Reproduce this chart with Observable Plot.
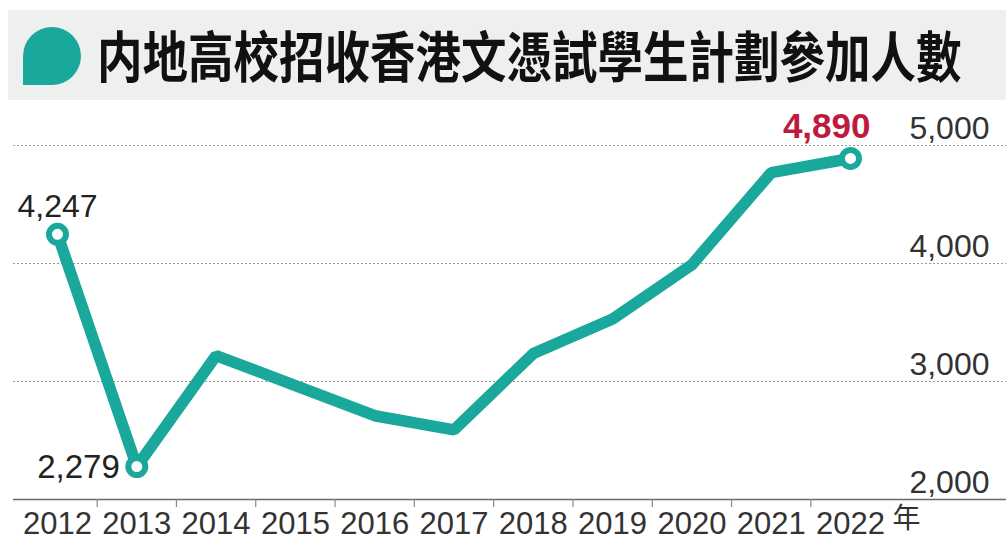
<!DOCTYPE html>
<html>
<head>
<meta charset="utf-8">
<script src="https://cdn.jsdelivr.net/npm/d3@7"></script>
<script src="https://cdn.jsdelivr.net/npm/@observablehq/plot@0.6"></script>
<style>
  html, body { margin: 0; padding: 0; background: #fff; width: 1006px; height: 539px; overflow: hidden; }
  #title {
    position: relative;
    margin: 10px 0 0 8px;
    height: 90px;
    background: #eef0f0;
  }
  #title svg.blob { position: absolute; left: 15px; top: 17px; }
  #title .t {
    position: absolute;
    left: 89px;
    top: 14px;
    font-family: "Noto Sans CJK TC", "Noto Sans CJK SC", sans-serif;
    font-weight: 700;
    font-size: 48px;
    line-height: 58px;
    color: #111;
    transform: scale(0.948, 1.13);
    transform-origin: left center;
    white-space: nowrap;
  }
  #chart svg { display: block; }
</style>
</head>
<body>
<div id="title">
  <svg class="blob" width="60" height="60" viewBox="0 0 60 60">
    <path d="M0,58 L0,29 A29,29 0 1 1 29,58 Z" fill="#1aa89c"/>
  </svg>
  <div class="t">内地高校招收香港文憑試學生計劃參加人數</div>
</div>
<div id="chart"></div>
<script>
const years = [2012, 2013, 2014, 2015, 2016, 2017, 2018, 2019, 2020, 2021, 2022];
const participants = [4247, 2279, 3220, 2965, 2710, 2590, 3237, 3530, 3990, 4770, 4890];
const yTicks = [2000, 3000, 4000, 5000];
const gridValues = [3000, 4000, 5000];
const tickBoundaries = [2012.5, 2013.5, 2014.5, 2015.5, 2016.5, 2017.5, 2018.5, 2019.5, 2020.5, 2021.5];
const labeledYears = [2012, 2013, 2022];
const yearUnit = "年";

const data = years.map((year, i) => ({year, value: participants[i]}));
const labeled = data.filter(d => labeledYears.includes(d.year));
const fmt = d3.format(",");

const teal = "#1aa89c";
const sans = "'Liberation Sans', Arial, Helvetica, sans-serif";

const plot = Plot.plot({
  width: 1006,
  height: 439,
  marginTop: 45,
  marginBottom: 40,
  marginLeft: 57,
  marginRight: 156,
  x: {domain: [2012, 2022]},
  y: {domain: [2000, 5000]},
  style: {background: "transparent", overflow: "visible"},
  marks: [
    Plot.ruleY(gridValues, {stroke: "#9a9a9a", strokeWidth: 1, strokeDasharray: "2,2", insetLeft: -44, insetRight: -156}),
    Plot.ruleY([2000], {stroke: "#6a6a6a", strokeWidth: 1.5, insetLeft: -44, insetRight: -156}),
    Plot.axisX(tickBoundaries, {tickSize: 8, stroke: "#888", strokeWidth: 1.2, text: null, label: null}),
    Plot.axisX(years, {tickSize: 0, tickPadding: 12, tickFormat: d => String(d), fontSize: 31, fontFamily: sans, fill: "#333", label: null, ariaLabel: "year-labels"}),
    Plot.text([{year: 2022, value: 2000}], {x: "year", y: "value", text: () => yearUnit, dx: 56, dy: 9, fontSize: 28, fontFamily: "'Noto Sans CJK TC', sans-serif", fill: "#333", lineAnchor: "top"}),
    Plot.axisY(yTicks, {anchor: "right", tickSize: 0, tickPadding: 139, textAnchor: "end", dy: -17, fontSize: 32, fontFamily: sans, fill: "#333", tickFormat: d => fmt(d), label: null}),
    Plot.line(data, {x: "year", y: "value", stroke: teal, strokeWidth: 11.5, strokeLinejoin: "miter", strokeLinecap: "round"}),
    Plot.dot(labeled, {x: "year", y: "value", r: 8.5, fill: "#fff", stroke: teal, strokeWidth: 6}),
    Plot.text(labeled.filter(d => d.year === 2012), {x: "year", y: "value", text: d => fmt(d.value), dy: -28, fontSize: 32, fontFamily: sans, fill: "#222"}),
    Plot.text(labeled.filter(d => d.year === 2013), {x: "year", y: "value", text: d => fmt(d.value), dx: -17, dy: 1, textAnchor: "end", fontSize: 33, fontFamily: sans, fill: "#222"}),
    Plot.text(labeled.filter(d => d.year === 2022), {x: "year", y: "value", text: d => fmt(d.value), dx: 20, dy: -32, textAnchor: "end", fontSize: 35, fontWeight: "bold", fontFamily: sans, fill: "#be1a3e"})
  ]
});
// condensed look for the year labels
d3.select(plot).selectAll('g[aria-label="year-labels"] text').each(function() {
  const t = this.getAttribute("transform") || "";
  this.setAttribute("transform", t + " scale(0.8,1)");
});
document.getElementById("chart").appendChild(plot);
</script>
</body>
</html>
